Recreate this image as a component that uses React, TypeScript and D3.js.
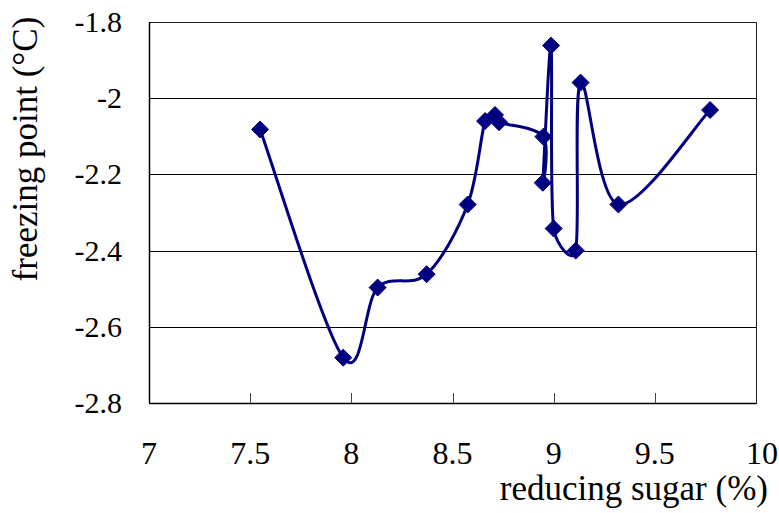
import React from "react";
import * as d3 from "d3";

const sugar = [7.549, 7.96, 8.13, 8.372, 8.575, 8.661, 8.71, 8.73, 8.949, 8.946, 8.987, 9.0, 9.109, 9.133, 9.32, 9.773];
const freezing = [-2.082, -2.681, -2.497, -2.462, -2.279, -2.06, -2.044, -2.063, -2.101, -2.222, -1.862, -2.342, -2.4, -1.959, -2.279, -2.031];
const xTicks = [7, 7.5, 8, 8.5, 9, 9.5, 10];
const yTicks = [-1.8, -2, -2.2, -2.4, -2.6, -2.8];
const xTitle = "reducing sugar (%)";
const yTitle = "freezing point (°C)";

const W = 779;
const H = 513;
const L = 149;
const R = 756;
const T = 22;
const B = 403;
const FONT = "'Liberation Serif', 'Times New Roman', serif";
const NAVY = "#000080";

// Excel-like smoothed line: uniform Catmull-Rom Bezier with control arms clamped
function smoothPath(pts: [number, number][]): string {
  const p = d3.path();
  const n = pts.length;
  if (!n) return "";
  p.moveTo(pts[0][0], pts[0][1]);
  const k = 0.5;
  const arm = (i: number, j: number): [number, number] => {
    const prev = pts[Math.max(0, i - 1)];
    const next = pts[Math.min(n - 1, i + 1)];
    let tx = (next[0] - prev[0]) / 6;
    let ty = (next[1] - prev[1]) / 6;
    const sign = j > i ? 1 : -1;
    tx *= sign;
    ty *= sign;
    const seg = Math.hypot(pts[j][0] - pts[i][0], pts[j][1] - pts[i][1]);
    const len = Math.hypot(tx, ty);
    if (len > seg * k && len > 0) {
      const s = (seg * k) / len;
      tx *= s;
      ty *= s;
    }
    return [pts[i][0] + tx, pts[i][1] + ty];
  };
  for (let i = 0; i < n - 1; i++) {
    const c1 = arm(i, i + 1);
    const c2 = arm(i + 1, i);
    p.bezierCurveTo(c1[0], c1[1], c2[0], c2[1], pts[i + 1][0], pts[i + 1][1]);
  }
  return p.toString();
}

export default function App() {
  const x = d3.scaleLinear().domain([7, 10]).range([L, R]);
  const y = d3.scaleLinear().domain([-2.8, -1.8]).range([B, T]);
  const pts: [number, number][] = sugar.map((s, i) => [x(s), y(freezing[i])]);
  const path = smoothPath(pts);
  const r = 8.5;
  const diamond = (cx: number, cy: number) =>
    `M${cx},${cy - r}L${cx + r},${cy}L${cx},${cy + r}L${cx - r},${cy}Z`;

  return (
    <svg
      width={W}
      height={H}
      viewBox={`0 0 ${W} ${H}`}
      style={{ position: "absolute", left: 0, top: 0, background: "#fff" }}
    >
      <rect x={0} y={0} width={W} height={H} fill="#fff" />
      {yTicks
        .filter((t) => t !== -1.8 && t !== -2.8)
        .map((t) => (
          <line key={"g" + t} x1={L} x2={R} y1={Math.round(y(t)) + 0.5} y2={Math.round(y(t)) + 0.5} stroke="#000" strokeWidth={1} />
        ))}
      <rect x={L + 0.5} y={T + 0.5} width={R - L} height={B - T} fill="none" stroke="#222" strokeWidth={1} />
      <line x1={L} x2={R} y1={B + 0.5} y2={B + 0.5} stroke="#000" strokeWidth={1.5} />
      <line x1={L + 0.5} x2={L + 0.5} y1={T} y2={B} stroke="#000" strokeWidth={1.5} />
      {xTicks
        .filter((t) => t !== 7 && t !== 10)
        .map((t) => (
          <line key={"t" + t} x1={Math.round(x(t)) + 0.5} x2={Math.round(x(t)) + 0.5} y1={B - 10} y2={B} stroke="#444" strokeWidth={1} />
        ))}
      {xTicks.map((t) => (
        <text key={"xl" + t} x={x(t) + (t === 10 ? 6 : 0)} y={464} textAnchor="middle" fontFamily={FONT} fontSize={32} fill="#000">
          {String(t)}
        </text>
      ))}
      {yTicks.map((t) => (
        <text key={"yl" + t} x={122} y={y(t) + 10} textAnchor="end" fontFamily={FONT} fontSize={30} fill="#000">
          {String(t)}
        </text>
      ))}
      <text x={768} y={500} textAnchor="end" fontFamily={FONT} fontSize={35} fill="#000">
        {xTitle}
      </text>
      <text
        transform={`translate(37,${149}) rotate(-90)`}
        textAnchor="middle"
        fontFamily={FONT}
        fontSize={35}
        fill="#000"
      >
        {yTitle}
      </text>
      <path d={path} fill="none" stroke={NAVY} strokeWidth={3} strokeLinejoin="round" />
      {pts.map((p, i) => (
        <path key={"m" + i} d={diamond(p[0], p[1])} fill={NAVY} stroke={NAVY} strokeWidth={1} />
      ))}
    </svg>
  );
}
